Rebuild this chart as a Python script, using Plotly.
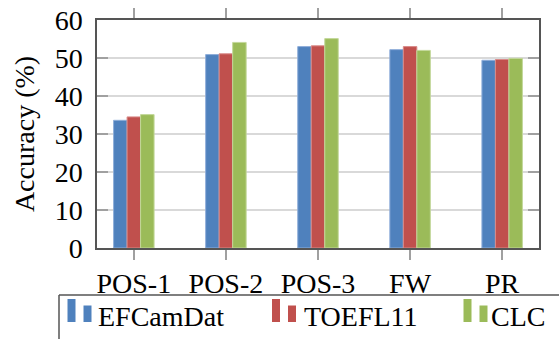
import plotly.graph_objects as go

categories = ["POS-1", "POS-2", "POS-3", "FW", "PR"]
efcamdat = [33.6, 50.9, 53.0, 52.2, 49.4]
toefl11 = [34.5, 51.1, 53.2, 53.0, 49.6]
clc = [35.1, 54.1, 55.1, 52.0, 49.9]
series_names = ["EFCamDat", "TOEFL11", "CLC"]
y_ticks = [0, 10, 20, 30, 40, 50, 60]

colors = ["#4F81BD", "#C0504D", "#9BBB59"]
edge = ["#8FAEDA", "#D98B89", "#C3D89A"]
FONT = "Liberation Serif"

W, H = 559, 339
L, R, T, B = 97, 20, 20, 91
pw, ph = W - L - R, H - T - B

fig = go.Figure()
for name, vals, c, e in zip(series_names, [efcamdat, toefl11, clc], colors, edge):
    fig.add_trace(go.Bar(x=categories, y=vals, name=name, marker=dict(color=c, line=dict(color=e, width=1)),
                         showlegend=False))

def px(x):
    return (x - L) / pw

def py(y):
    return (H - B - y) / ph

shapes = []
annotations = []
# legend box (left and top edges, extends beyond image)
shapes.append(dict(type="line", xref="paper", yref="paper", x0=px(59), x1=px(600), y0=py(295), y1=py(295),
                   line=dict(color="#555555", width=1.5)))
shapes.append(dict(type="line", xref="paper", yref="paper", x0=px(59), x1=px(59), y0=py(295), y1=py(360),
                   line=dict(color="#555555", width=1.5)))
leg_x = [67.5, 272, 463.5]
text_x = [96, 302, 489]
for name, c, lx, tx in zip(series_names, colors, leg_x, text_x):
    shapes.append(dict(type="rect", xref="paper", yref="paper", x0=px(lx), x1=px(lx + 8), y0=py(322), y1=py(299),
                       fillcolor=c, line=dict(width=0)))
    shapes.append(dict(type="rect", xref="paper", yref="paper", x0=px(lx + 16), x1=px(lx + 24), y0=py(322), y1=py(305.5),
                       fillcolor=c, line=dict(width=0)))
    annotations.append(dict(text=name, xref="paper", yref="paper", x=px(tx), y=py(316), xanchor="left",
                            yanchor="middle", showarrow=False, font=dict(family=FONT, size=28, color="black")))

fig.update_layout(
    width=W, height=H,
    margin=dict(l=L, r=R, t=T, b=B, pad=0, autoexpand=False),
    paper_bgcolor="white", plot_bgcolor="white",
    barmode="group", bargap=0.56, bargroupgap=0,
    font=dict(family=FONT, size=28, color="black"),
    shapes=shapes, annotations=annotations,
    xaxis=dict(range=[-0.4, 4.4], showline=True, linecolor="#555555", linewidth=1.5, mirror="ticks",
               ticks="outside", ticklen=10, tickcolor="#a0a0a0", tickwidth=1.5, showgrid=False, automargin=False,
               tickfont=dict(family=FONT, size=28, color="black")),
    yaxis=dict(range=[0, 60], tickvals=y_ticks, showline=True, linecolor="#555555", linewidth=1.5, mirror="ticks",
               ticks="inside", ticklen=11, tickcolor="#a0a0a0", tickwidth=1.5, showgrid=True, gridcolor="#d9d9d9",
               gridwidth=1.5, zeroline=False, ticklabelstandoff=7, automargin=False,
               tickfont=dict(family=FONT, size=28, color="black"),
               title=dict(text="Accuracy (%)", standoff=12, font=dict(family=FONT, size=28, color="black"))),
)

fig.write_html("out.html", config={"displayModeBar": False},
               post_script="document.body.style.margin='0';document.body.style.overflow='hidden';")
